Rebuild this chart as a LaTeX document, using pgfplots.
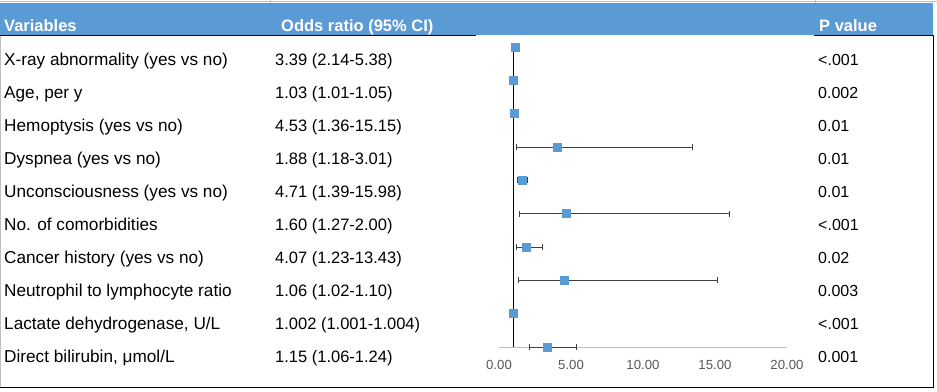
\documentclass[border=0pt]{standalone}
\usepackage{fontspec}
\setmainfont{Liberation Sans}
\usepackage{pgfplots}
\pgfplotsset{compat=1.18}
\definecolor{cblue}{RGB}{91,155,213}
\definecolor{cbar}{RGB}{64,64,64}
\definecolor{cgrid}{RGB}{191,191,191}
\definecolor{ctick}{RGB}{89,89,89}
\newcommand\tf{\fontsize{16.5pt}{19pt}\selectfont}
\newcommand\lf{\fontsize{17.2pt}{19pt}\selectfont}
\newcommand\pf{\fontsize{16pt}{19pt}\selectfont}
\begin{document}
\begin{tikzpicture}[x=1pt,y=1pt]
\useasboundingbox (0,0) rectangle (937,-391);
\coordinate (A) at (499,-347);
% header band and rules
\fill[cblue] (0,-3) rectangle (933,-35);
\draw[cgrid, line width=0.8pt] (0,-1) -- (937,-1);
\draw[cgrid, line width=0.8pt] (270,0) -- (270,-3);
\draw[cgrid, line width=0.8pt] (815,0) -- (815,-3);
\draw[cgrid, line width=0.8pt] (0.5,-35) -- (0.5,-387);
\draw[black, line width=1pt] (0,-35.5) -- (476,-35.5);
\draw[black, line width=1pt] (814,-35.5) -- (933.5,-35.5);
\draw[black, line width=1pt] (933,-35) -- (933,-387.5);
\draw[black, line width=1pt] (0,-387) -- (933.5,-387);
% header text
\node[anchor=base west, inner sep=0, text=white] at (4,-31.5) {\tf\bfseries Variables};
\node[anchor=base west, inner sep=0, text=white] at (281,-31.5) {\tf\bfseries Odds ratio (95\% CI)};
\node[anchor=base west, inner sep=0, text=white] at (819,-31.5) {\tf\bfseries P value};
% rows
\node[anchor=base west, inner sep=0] at (4,-65) {\lf X-ray abnormality (yes vs no)};
\node[anchor=base west, inner sep=0] at (4,-98) {\lf Age, per y};
\node[anchor=base west, inner sep=0] at (4,-131) {\lf Hemoptysis (yes vs no)};
\node[anchor=base west, inner sep=0] at (4,-164) {\lf Dyspnea (yes vs no)};
\node[anchor=base west, inner sep=0] at (4,-197) {\lf Unconsciousness (yes vs no)};
\node[anchor=base west, inner sep=0] at (4,-230) {\lf No. of comorbidities};
\node[anchor=base west, inner sep=0] at (4,-263) {\lf Cancer history (yes vs no)};
\node[anchor=base west, inner sep=0] at (4,-296) {\lf Neutrophil to lymphocyte ratio};
\node[anchor=base west, inner sep=0] at (4,-329) {\lf Lactate dehydrogenase, U/L};
\node[anchor=base west, inner sep=0] at (4,-362) {\lf Direct bilirubin, μmol/L};
\node[anchor=base west, inner sep=0] at (275,-65) {\tf 3.39 (2.14-5.38)};
\node[anchor=base west, inner sep=0] at (275,-98) {\tf 1.03 (1.01-1.05)};
\node[anchor=base west, inner sep=0] at (275,-131) {\tf 4.53 (1.36-15.15)};
\node[anchor=base west, inner sep=0] at (275,-164) {\tf 1.88 (1.18-3.01)};
\node[anchor=base west, inner sep=0] at (275,-197) {\tf 4.71 (1.39-15.98)};
\node[anchor=base west, inner sep=0] at (275,-230) {\tf 1.60 (1.27-2.00)};
\node[anchor=base west, inner sep=0] at (275,-263) {\tf 4.07 (1.23-13.43)};
\node[anchor=base west, inner sep=0] at (275,-296) {\tf 1.06 (1.02-1.10)};
\node[anchor=base west, inner sep=0] at (275,-329) {\tf 1.002 (1.001-1.004)};
\node[anchor=base west, inner sep=0] at (275,-362) {\tf 1.15 (1.06-1.24)};
\node[anchor=base west, inner sep=0] at (818,-65) {\pf <.001};
\node[anchor=base west, inner sep=0] at (818,-98) {\pf 0.002};
\node[anchor=base west, inner sep=0] at (818,-131) {\pf 0.01};
\node[anchor=base west, inner sep=0] at (818,-164) {\pf 0.01};
\node[anchor=base west, inner sep=0] at (818,-197) {\pf 0.01};
\node[anchor=base west, inner sep=0] at (818,-230) {\pf <.001};
\node[anchor=base west, inner sep=0] at (818,-263) {\pf 0.02};
\node[anchor=base west, inner sep=0] at (818,-296) {\pf 0.003};
\node[anchor=base west, inner sep=0] at (818,-329) {\pf <.001};
\node[anchor=base west, inner sep=0] at (818,-362) {\pf 0.001};
% forest plot
\begin{axis}[
  at={(A)}, anchor=south west,
  scale only axis, width=288pt, height=300pt,
  xmin=0, xmax=20, ymin=1, ymax=10,
  axis x line*=bottom, axis y line=none,
  x axis line style={draw=cgrid, line width=0.8pt, -},
  xtick={0,5,10,15,20},
  xticklabels={0.00,5.00,10.00,15.00,20.00},
  major tick length=0pt,
  ytick=\empty,
  xticklabel style={font=\fontsize{13.2pt}{15pt}\selectfont, text=ctick, yshift=-10pt},
  clip=false,
]
\addplot[black, line width=0.9pt] coordinates {(1,1) (1,10)};
\addplot[only marks, color=cblue, mark=square*, mark size=4pt,
  mark options={fill=cblue, draw=cblue, line width=0pt},
  error bars/.cd, x dir=both, x explicit,
  error bar style={line width=0.8pt, color=cbar},
  error mark options={rotate=90, mark size=3pt, line width=0.8pt, color=cbar}]
coordinates {
  (3.39,1)  += (1.99,0)  -= (1.25,0)
  (1.03,2)  += (0.02,0)  -= (0.02,0)
  (4.53,3)  += (10.62,0) -= (3.17,0)
  (1.88,4)  += (1.13,0)  -= (0.70,0)
  (4.71,5)  += (11.27,0) -= (3.32,0)
  (1.60,6)  += (0.40,0)  -= (0.33,0)
  (4.07,7)  += (9.36,0)  -= (2.84,0)
  (1.06,8)  += (0.04,0)  -= (0.04,0)
  (1.002,9) += (0.002,0) -= (0.001,0)
  (1.15,10) += (0.09,0)  -= (0.09,0)
};
\end{axis}
\end{tikzpicture}
\end{document}
